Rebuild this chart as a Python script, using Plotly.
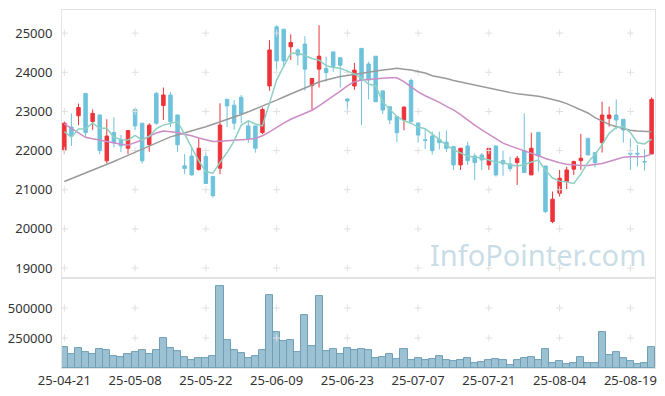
import plotly.graph_objects as go

dates = ["25-04-21","25-04-22","25-04-23","25-04-24","25-04-25","25-04-28","25-04-29","25-04-30",
         "25-05-02","25-05-07","25-05-08","25-05-09","25-05-12","25-05-13","25-05-14","25-05-15",
         "25-05-16","25-05-19","25-05-20","25-05-21","25-05-22","25-05-23","25-05-26","25-05-27",
         "25-05-28","25-05-29","25-05-30","25-06-02","25-06-04","25-06-05","25-06-09","25-06-10",
         "25-06-11","25-06-12","25-06-13","25-06-16","25-06-17","25-06-18","25-06-19","25-06-20",
         "25-06-23","25-06-24","25-06-25","25-06-26","25-06-27","25-06-30","25-07-01","25-07-02",
         "25-07-03","25-07-04","25-07-07","25-07-08","25-07-09","25-07-10","25-07-11","25-07-14",
         "25-07-15","25-07-16","25-07-17","25-07-18","25-07-21","25-07-22","25-07-23","25-07-24",
         "25-07-25","25-07-28","25-07-29","25-07-30","25-07-31","25-08-01","25-08-04","25-08-05",
         "25-08-06","25-08-07","25-08-08","25-08-11","25-08-12","25-08-13","25-08-14","25-08-18",
         "25-08-19","25-08-20","25-08-21","25-08-22"]

open_ = [22000,22600,22890,23460,22740,22910,21740,22460,22270,22060,23050,22700,22150,23460,23150,23420,
         22910,21610,21860,21520,21850,21340,21550,23310,23160,23360,22630,22630,22460,23650,25160,25100,
         24650,24570,24720,23660,24080,24100,24520,24370,23320,23650,24610,24210,24410,23525,23120,22870,
         22780,23790,22705,22276,22373,22280,22215,22101,21634,22118,21863,21889,21634,22118,21745,21660,
         21693,21999,21379,22467,21608,20189,20911,21209,21524,21744,22314,21949,22204,22824,22909,22799,
         21931,21931,21720,21914]
high = [22740,22950,23200,23460,23050,22910,22800,22850,22400,22520,23100,22700,22700,23500,23610,23500,
        22910,21910,22100,22310,21950,21340,23207,23310,23290,23420,22780,22630,23100,24820,25200,25100,
        24970,24610,24920,23840,25200,24400,24520,24370,23320,24240,24610,24270,24410,23525,23120,22870,
        23121,23843,22705,22568,22483,22484,22517,22101,22059,22229,21931,21931,22059,22118,21999,21846,
        21863,22951,22458,22467,21608,20954,21506,21591,21744,22424,22314,21949,23249,23122,23308,22799,
        22314,22144,22034,23359]
low = [21910,22120,22650,22360,22530,21910,21670,22080,21960,21910,22520,21670,21970,22660,22780,22600,
       21960,21400,21360,21490,21150,20800,21400,22600,22530,22700,22200,21950,22420,23530,24040,24160,
       24310,24180,23530,23020,23610,23760,24010,23610,22950,23550,22650,23310,23250,22930,22675,22215,
       22517,22739,22203,22038,21900,22030,21960,21505,21506,21634,21251,21506,21506,21336,21354,21464,
       21124,21438,21379,21464,20402,20146,20826,21013,21379,21506,21889,21574,21949,22612,22544,22204,
       21506,21591,21490,21914]
close = [22700,22370,23100,22460,22950,22000,22370,22200,22120,22510,22630,21740,22650,22700,23420,22740,
         22150,21545,21380,22060,21160,20850,22653,23140,22700,22935,22310,22060,23050,24570,24290,24290,
         24760,24440,24080,23840,24410,23990,24140,24180,23265,24056,23801,23801,23248,23036,22781,22458,
         23112,22739,22398,22260,21999,22203,22059,21634,22059,21744,21693,21761,22059,21379,21660,21540,
         21804,21438,22059,21863,20444,20758,21294,21506,21719,21804,21889,21693,22909,22909,22781,22527,
         21914,21914,21710,23308]

volume = [175000,119000,167000,136000,119000,158000,150000,100000,92000,117000,136000,150000,119000,150000,
          250000,167000,142000,92000,69000,83000,83000,100000,686000,233000,150000,125000,83000,100000,
          150000,611000,300000,225000,233000,136000,444000,183000,603000,144000,158000,119000,167000,
          150000,160000,150000,83000,92000,117000,75000,158000,67000,83000,67000,75000,100000,67000,
          58000,67000,83000,42000,50000,67000,75000,67000,25000,67000,83000,92000,67000,158000,42000,
          58000,33000,42000,92000,42000,42000,300000,108000,133000,83000,58000,33000,42000,175000]

ma5 = [22483,22340,22550,22560,22700,22570,22570,22340,22280,22270,22390,22270,22360,22560,22650,22690,
       22740,22420,22080,21740,21464,21421,21700,21950,22250,22650,22760,22680,22630,23200,23800,24150,
       24480,24500,24420,24350,24310,24170,24120,24100,24030,23960,23850,23700,23650,23250,23050,22870,
       22760,22700,22600,22560,22420,22270,22140,22020,21950,21860,21830,21810,21760,21700,21700,21630,
       21610,21640,21710,21760,21500,21300,21220,21200,21160,21400,21700,21900,22150,22440,22590,22610,
       22460,22200,22170,22290]
ma20 = [22680,22560,22450,22340,22300,22260,22230,22190,22160,22140,22200,22270,22370,22450,22500,22480,
        22460,22420,22380,22320,22270,22230,22240,22250,22260,22270,22290,22310,22380,22480,22600,22700,
        22800,22880,22940,23030,23140,23260,23380,23520,23650,23760,23800,23820,23840,23850,23860,23860,
        23760,23620,23500,23400,23320,23230,23130,23040,22920,22780,22650,22530,22410,22300,22190,22120,
        22060,22010,21950,21870,21800,21740,21690,21650,21630,21620,21620,21640,21670,21720,21780,21830,
        21840,21840,21850,21910]
ma60 = [21210,21280,21350,21420,21490,21560,21640,21720,21800,21880,21960,22040,22120,22200,22290,22350,
        22400,22460,22510,22560,22610,22670,22720,22780,22850,22920,22990,23060,23130,23210,23290,23370,
        23450,23530,23610,23680,23750,23800,23850,23890,23920,23950,23980,24010,24040,24060,24080,24100,
        24080,24060,24020,23980,23910,23880,23840,23790,23750,23720,23680,23630,23590,23550,23510,23480,
        23450,23430,23410,23390,23350,23310,23260,23200,23120,23040,22960,22840,22750,22670,22610,22560,
        22520,22500,22490,22480]

price_ticks = [19000, 20000, 21000, 22000, 23000, 24000, 25000]
vol_ticks = [250000, 500000]
x_ticks = dates[::10]

RED = "#ee3338"
BLUE = "#6ec2dc"
GRID = "#e0e0e0"
AX = "#e3e3e3"
FONT = "Noto Sans"

fig = go.Figure()

# grid crosses at tick intersections
gx, gy = [], []
for d in x_ticks:
    for p in price_ticks:
        gx.append(d); gy.append(p)
fig.add_trace(go.Scatter(x=gx, y=gy, mode="markers", xaxis="x2", yaxis="y",
                         marker=dict(symbol="cross-thin", size=5, line=dict(color=GRID, width=1)),
                         hoverinfo="skip", showlegend=False))
vx, vy = [], []
for d in x_ticks:
    for v in vol_ticks:
        vx.append(d); vy.append(v)
fig.add_trace(go.Scatter(x=vx, y=vy, mode="markers", xaxis="x", yaxis="y2",
                         marker=dict(symbol="cross-thin", size=5, line=dict(color=GRID, width=1)),
                         hoverinfo="skip", showlegend=False))

fig.add_trace(go.Candlestick(x=dates, open=open_, high=high, low=low, close=close,
                             xaxis="x2", yaxis="y",
                             increasing=dict(line=dict(color=RED, width=1), fillcolor=RED),
                             decreasing=dict(line=dict(color=BLUE, width=1), fillcolor=BLUE),
                             showlegend=False))

fig.add_trace(go.Scatter(x=dates, y=ma60, mode="lines", xaxis="x2", yaxis="y",
                         line=dict(color="#9a9a9a", width=1.5), showlegend=False))
fig.add_trace(go.Scatter(x=dates, y=ma20, mode="lines", xaxis="x2", yaxis="y",
                         line=dict(color="#cc8cc6", width=1.5), showlegend=False))
fig.add_trace(go.Scatter(x=dates, y=ma5, mode="lines", xaxis="x2", yaxis="y",
                         line=dict(color="#8fd0c3", width=1.5), showlegend=False))

fig.add_trace(go.Bar(x=dates, y=volume, xaxis="x", yaxis="y2",
                     marker=dict(color="rgba(130,178,200,0.8)", line=dict(color="#6f9fb6", width=1)),
                     showlegend=False))

split = 0.2512
xr = [-0.33, 83.48]
fig.update_layout(
    width=665, height=396,
    margin=dict(l=62, r=10, t=10, b=28),
    paper_bgcolor="white", plot_bgcolor="white",
    font=dict(family=FONT, size=13, color="#333333"),
    bargap=0,
    xaxis=dict(domain=[0, 1], anchor="y2", type="category", categoryorder="array", categoryarray=dates,
               range=xr, tickmode="array", tickvals=x_ticks, ticktext=x_ticks, automargin=False,
               showgrid=False, zeroline=False, showline=True, linecolor=AX, mirror=True,
               ticks="", ticklabelstandoff=0, tickfont=dict(size=13, color="#333333"),
               rangeslider=dict(visible=False)),
    xaxis2=dict(domain=[0, 1], anchor="y", type="category", categoryorder="array", categoryarray=dates,
                range=xr, matches="x", showticklabels=False, showgrid=False, zeroline=False,
                automargin=False, showline=True, linecolor=AX, mirror=True, ticks="",
                rangeslider=dict(visible=False)),
    yaxis=dict(domain=[split, 1], anchor="x2", range=[18745, 25590], tickmode="array",
               tickvals=price_ticks, ticktext=[str(t) for t in price_ticks], automargin=False,
               showgrid=False, zeroline=False, showline=True, linecolor=AX, mirror=True, ticks="",
               ticklabelstandoff=6, tickfont=dict(size=13, color="#333333")),
    yaxis2=dict(domain=[0, split], anchor="x", range=[0, 750000], tickmode="array",
                tickvals=vol_ticks, ticktext=[str(t) for t in vol_ticks], automargin=False,
                showgrid=False, zeroline=False, showline=True, linecolor=AX, mirror=True, ticks="",
                ticklabelstandoff=6, tickfont=dict(size=13, color="#333333")),
    annotations=[dict(text="InfoPointer.com", xref="paper", yref="paper", x=0.988, y=split + 0.006,
                      xanchor="right", yanchor="bottom", showarrow=False,
                      font=dict(family=FONT, size=29, color="rgba(165,198,214,0.6)"))],
)

fig.write_html("out.html", config={"displayModeBar": False},
               post_script="document.body.style.margin='0';document.body.style.padding='0';")
